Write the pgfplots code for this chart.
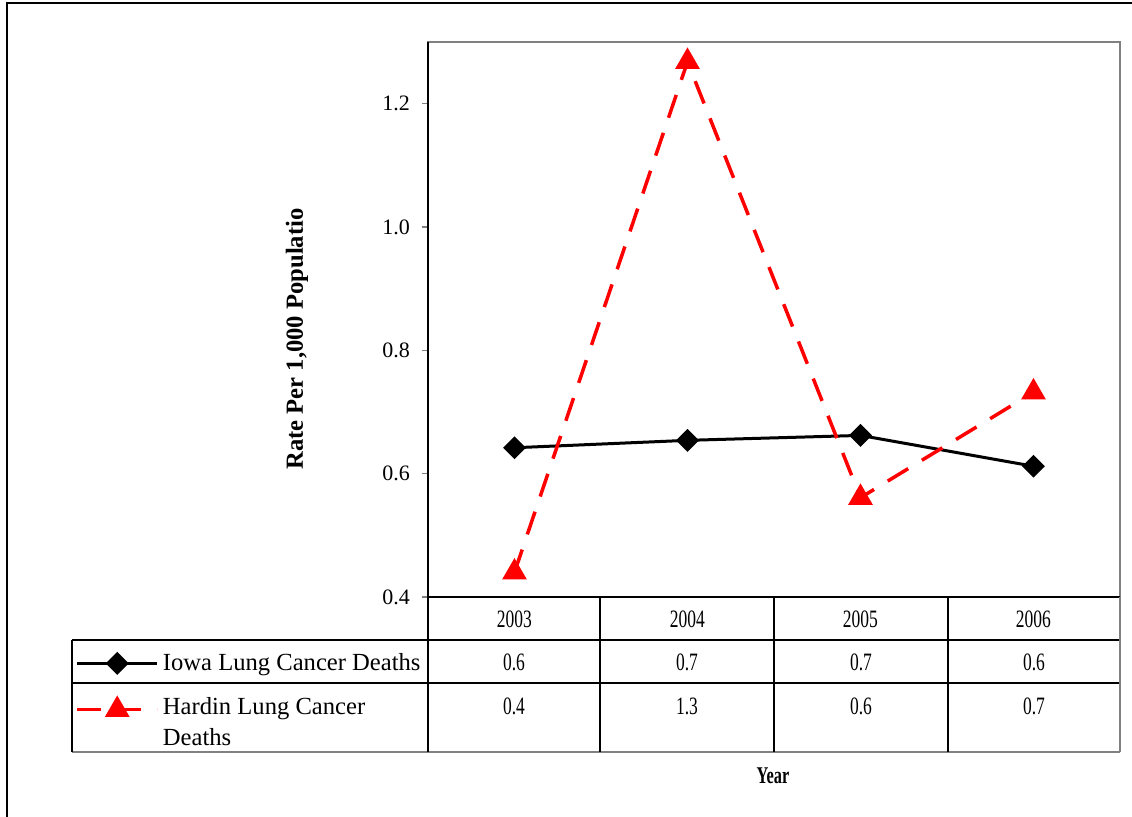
\documentclass[border=0pt]{standalone}
\usepackage{pgfplots}
\pgfplotsset{compat=1.18}
\usepackage{fontspec}
\setmainfont{Liberation Serif}
\begin{document}
\begin{tikzpicture}
\begin{scope}[x=0.5pt,y=-0.5pt]
\useasboundingbox (0,0) rectangle (1132,817);
\draw[line width=1pt] (7,817) -- (7,3) -- (1132,3);
\end{scope}
\begin{axis}[
  at={(214pt,-21pt)}, anchor=north west,
  width=346pt, height=277.5pt, scale only axis,
  xmin=-0.5, xmax=3.5, ymin=0.4, ymax=1.3,
  xtick={0,1,2,3},
  xticklabels={2003,2004,2005,2006},
  x tick label style={font=\fontsize{12.5}{14}\selectfont, xscale=0.7, anchor=center, yshift=-8pt},
  x tick style={draw=none},
  ytick={0.4,0.6,0.8,1.0,1.2},
  ytick pos=left,
  yticklabel style={/pgf/number format/fixed, /pgf/number format/fixed zerofill, /pgf/number format/precision=1, /pgf/number format/assume math mode=true, font=\fontsize{11}{13}\selectfont, xshift=-2.5pt},
  tick align=outside, major tick length=3pt,
  y tick style={draw=gray, line width=0.6pt},
  axis line style={draw=gray, line width=0.8pt},
  clip=false,
  legend cell align=left,
  legend style={at={(axis description cs:-0.51,-0.0936)}, anchor=north west, draw=none, fill=none,
    font=\fontsize{12.3}{15.5}\selectfont, row sep=8pt, inner sep=0pt},
  legend image code/.code={\draw[#1,mark repeat=2,mark phase=2] plot coordinates {(0pt,0pt)(20pt,0pt)(40pt,0pt)};},
]
\addplot[black, line width=1.5pt, mark=square*, mark size=3.3pt, mark options={rotate=45, solid}]
  coordinates {(0,0.642)(1,0.654)(2,0.662)(3,0.612)};
\addlegendentry{Iowa Lung Cancer Deaths}
\addplot[red, line width=1.75pt, dash pattern=on 12pt off 8pt, mark=triangle*, mark size=5.4pt, mark options={solid}]
  coordinates {(0,0.440)(1,1.268)(2,0.561)(3,0.732)};
\addlegendentry{\raisebox{2.5pt}[\height][0pt]{\begin{tabular}[t]{@{}l@{}}Hardin Lung Cancer\\Deaths\end{tabular}}}
\end{axis}
\begin{scope}[x=0.5pt,y=-0.5pt]
% axis black edges
\draw[line width=0.8pt] (428,42) -- (428,597) -- (1120,597);
% data table
\draw[line width=0.75pt] (72,640) -- (1120,640);
\draw[line width=0.75pt] (72,683) -- (1120,683);
\draw[line width=0.75pt, gray] (72,752) -- (1120,752);
\draw[line width=0.75pt] (72,640) -- (72,752);
\draw[line width=0.75pt] (428,597) -- (428,752);
\foreach \xx in {600,774,948} \draw[line width=0.75pt] (\xx,597) -- (\xx,752);
\draw[line width=0.8pt, gray] (1120,597) -- (1120,752);
\begin{scope}[every node/.style={font=\fontsize{12.5}{14}\selectfont, xscale=0.7}]
\node at (514,662) {0.6}; \node at (687,662) {0.7}; \node at (861,662) {0.7}; \node at (1034,662) {0.6};
\node at (514,706) {0.4}; \node at (687,706) {1.3}; \node at (861,706) {0.6}; \node at (1034,706) {0.7};
\end{scope}
\node[font=\bfseries\fontsize{12}{14}\selectfont, xscale=0.68] at (773,776) {Year};
\node[font=\bfseries\fontsize{12.3}{14}\selectfont, rotate=90] at (297,339) {Rate Per 1,000 Populatio};
\end{scope}
\end{tikzpicture}
\end{document}
